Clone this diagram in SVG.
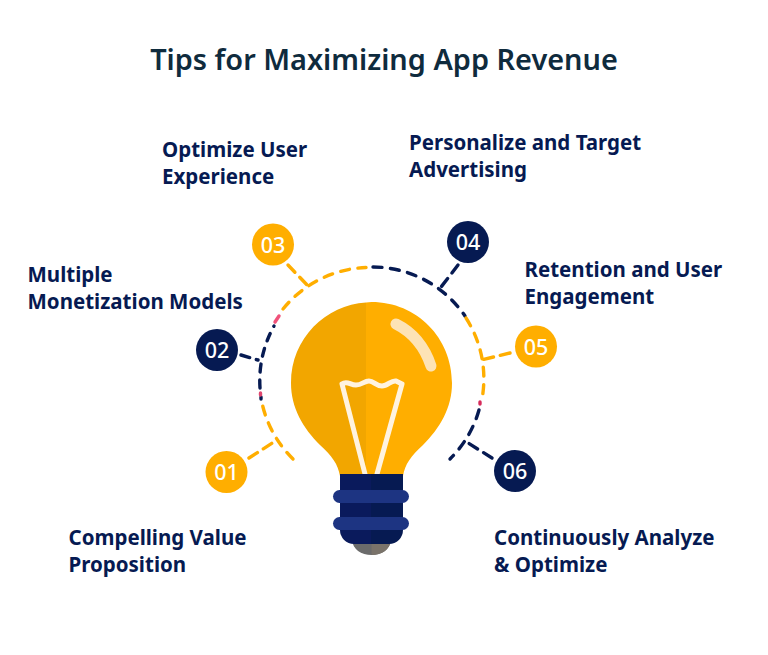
<svg xmlns="http://www.w3.org/2000/svg" width="768" height="655" viewBox="0 0 768 655">
<style>
text{font-family:"Noto Sans","Open Sans","Liberation Sans",sans-serif}
.t{font-size:28.9px;font-weight:600;fill:#0f2b3d}
.l{font-size:20.5px;font-weight:700;fill:#061a52}
.n{font-size:21.5px;font-weight:500;fill:#fff;text-anchor:middle}
.d{fill:none;stroke-width:3.4;stroke-linecap:round;stroke-dasharray:9 8.500}
.g{stroke:#ffae00}.b{stroke:#061a52}
.cg{fill:#ffae00}.cb{fill:#061a52}
</style>
<rect width="768" height="655" fill="#fff"/>
<text class="t" x="384" y="69.500" text-anchor="middle">Tips for Maximizing App Revenue</text>
<g id="connectors">
<path class="d g" d="M293 459A112 112 0 0 1 262 403"/>
<path class="d b" style="stroke-width:3.400;stroke-dasharray:none" d="M261 397L261 399"/>
<path d="M260.500 393L260.500 395" stroke="#e0466e" stroke-width="3.400" stroke-linecap="round"/>
<path class="d b" style="stroke-dasharray:8 8" d="M260 388A112 112 0 0 1 274 326"/>
<path d="M275 322L279 316" stroke="#f0527a" stroke-width="3.400" stroke-linecap="round"/>
<path class="d g" d="M283 309A112 112 0 0 1 366 267.500"/>
<path class="d b" d="M373 267A112 112 0 0 1 465 316"/>
<path class="d g" d="M466 318A112 112 0 0 1 482 399"/>
<path d="M480 402L480 404" stroke="#d62a5a" stroke-width="3.400" stroke-linecap="round"/>
<path class="d b" d="M479 410A112 112 0 0 1 450 459"/>
<path class="d g" style="stroke-dasharray:10 7" d="M249 458L277 440"/>
<path class="d b" style="stroke-dasharray:9 7" d="M241 355L258 360"/>
<path class="d g" style="stroke-dasharray:10 7" d="M288 265L309 287"/>
<path class="d b" style="stroke-dasharray:10 7" d="M458 265L438 291"/>
<path class="d g" style="stroke-dasharray:10 7" d="M510 353L481 360"/>
<path class="d b" style="stroke-dasharray:10 7" d="M492 458L465 441"/>
</g>
<g id="bulb">
<ellipse cx="371.500" cy="541" rx="19" ry="14" fill="#6b6b6b"/>
<path d="M371.500 541h19a19 14 0 0 1-19 14z" fill="#7a736a"/>
<path d="M366 302.500L371.500 302C417 302 452 338 452 383C452 408 440 428 423 445C411 456 405 464 403 476H366Z" fill="#ffae00"/>
<path d="M366 302.500C326 305 291 338 291 383C291 408 303 428 320 445C332 456 338 464 340 476H366Z" fill="#f2a600"/>
<path d="M342 384C347 380 350 385 356 385C362 385 364 381 369 381C374 381 376 386 382 386C388 386 391 380 396 381L402 384M342 384L365 474M402 384L377 474" fill="none" stroke="#fff3e0" stroke-width="5" stroke-linecap="round" stroke-linejoin="round"/>
<path d="M396 324C412 332 424 345 431 366" fill="none" stroke="#fde3b5" stroke-width="11" stroke-linecap="round"/>
<path d="M340 474H371V544H354a14 14 0 0 1-14-14Z" fill="#0a1a5c"/>
<path d="M371 474H403V530a14 14 0 0 1-14 14H371Z" fill="#061a52"/>
<rect x="333" y="490" width="76" height="13" rx="6.500" fill="#1d3482"/>
<rect x="333" y="517" width="76" height="13" rx="6.500" fill="#1d3482"/>
</g>
<g id="node-01"><circle class="cg" cx="226.500" cy="472" r="21"/><text class="n" x="226.500" y="480">01</text>
<text class="l"><tspan x="68.500" y="544.500">Compelling Value</tspan><tspan x="68.500" y="571.500">Proposition</tspan></text></g>
<g id="node-02"><circle class="cb" cx="217" cy="350" r="21"/><text class="n" x="217" y="357.500">02</text>
<text class="l"><tspan x="27.500" y="281.500">Multiple</tspan><tspan x="27.500" y="308.500">Monetization Models</tspan></text></g>
<g id="node-03"><circle class="cg" cx="273" cy="244.500" r="21"/><text class="n" x="273" y="252.500">03</text>
<text class="l"><tspan x="162" y="156.500">Optimize User</tspan><tspan x="162" y="183.500">Experience</tspan></text></g>
<g id="node-04"><circle class="cb" cx="468" cy="242" r="21"/><text class="n" x="468" y="250">04</text>
<text class="l"><tspan x="409" y="149.500">Personalize and Target</tspan><tspan x="409" y="176.500">Advertising</tspan></text></g>
<g id="node-05"><circle class="cg" cx="536" cy="346.500" r="21"/><text class="n" x="536" y="354.500">05</text>
<text class="l"><tspan x="524.500" y="277">Retention and User</tspan><tspan x="524.500" y="304">Engagement</tspan></text></g>
<g id="node-06"><circle class="cb" cx="515" cy="471" r="21"/><text class="n" x="515" y="478.500">06</text>
<text class="l"><tspan x="494" y="544.500">Continuously Analyze</tspan><tspan x="494" y="571.500">&amp; Optimize</tspan></text></g>
</svg>
